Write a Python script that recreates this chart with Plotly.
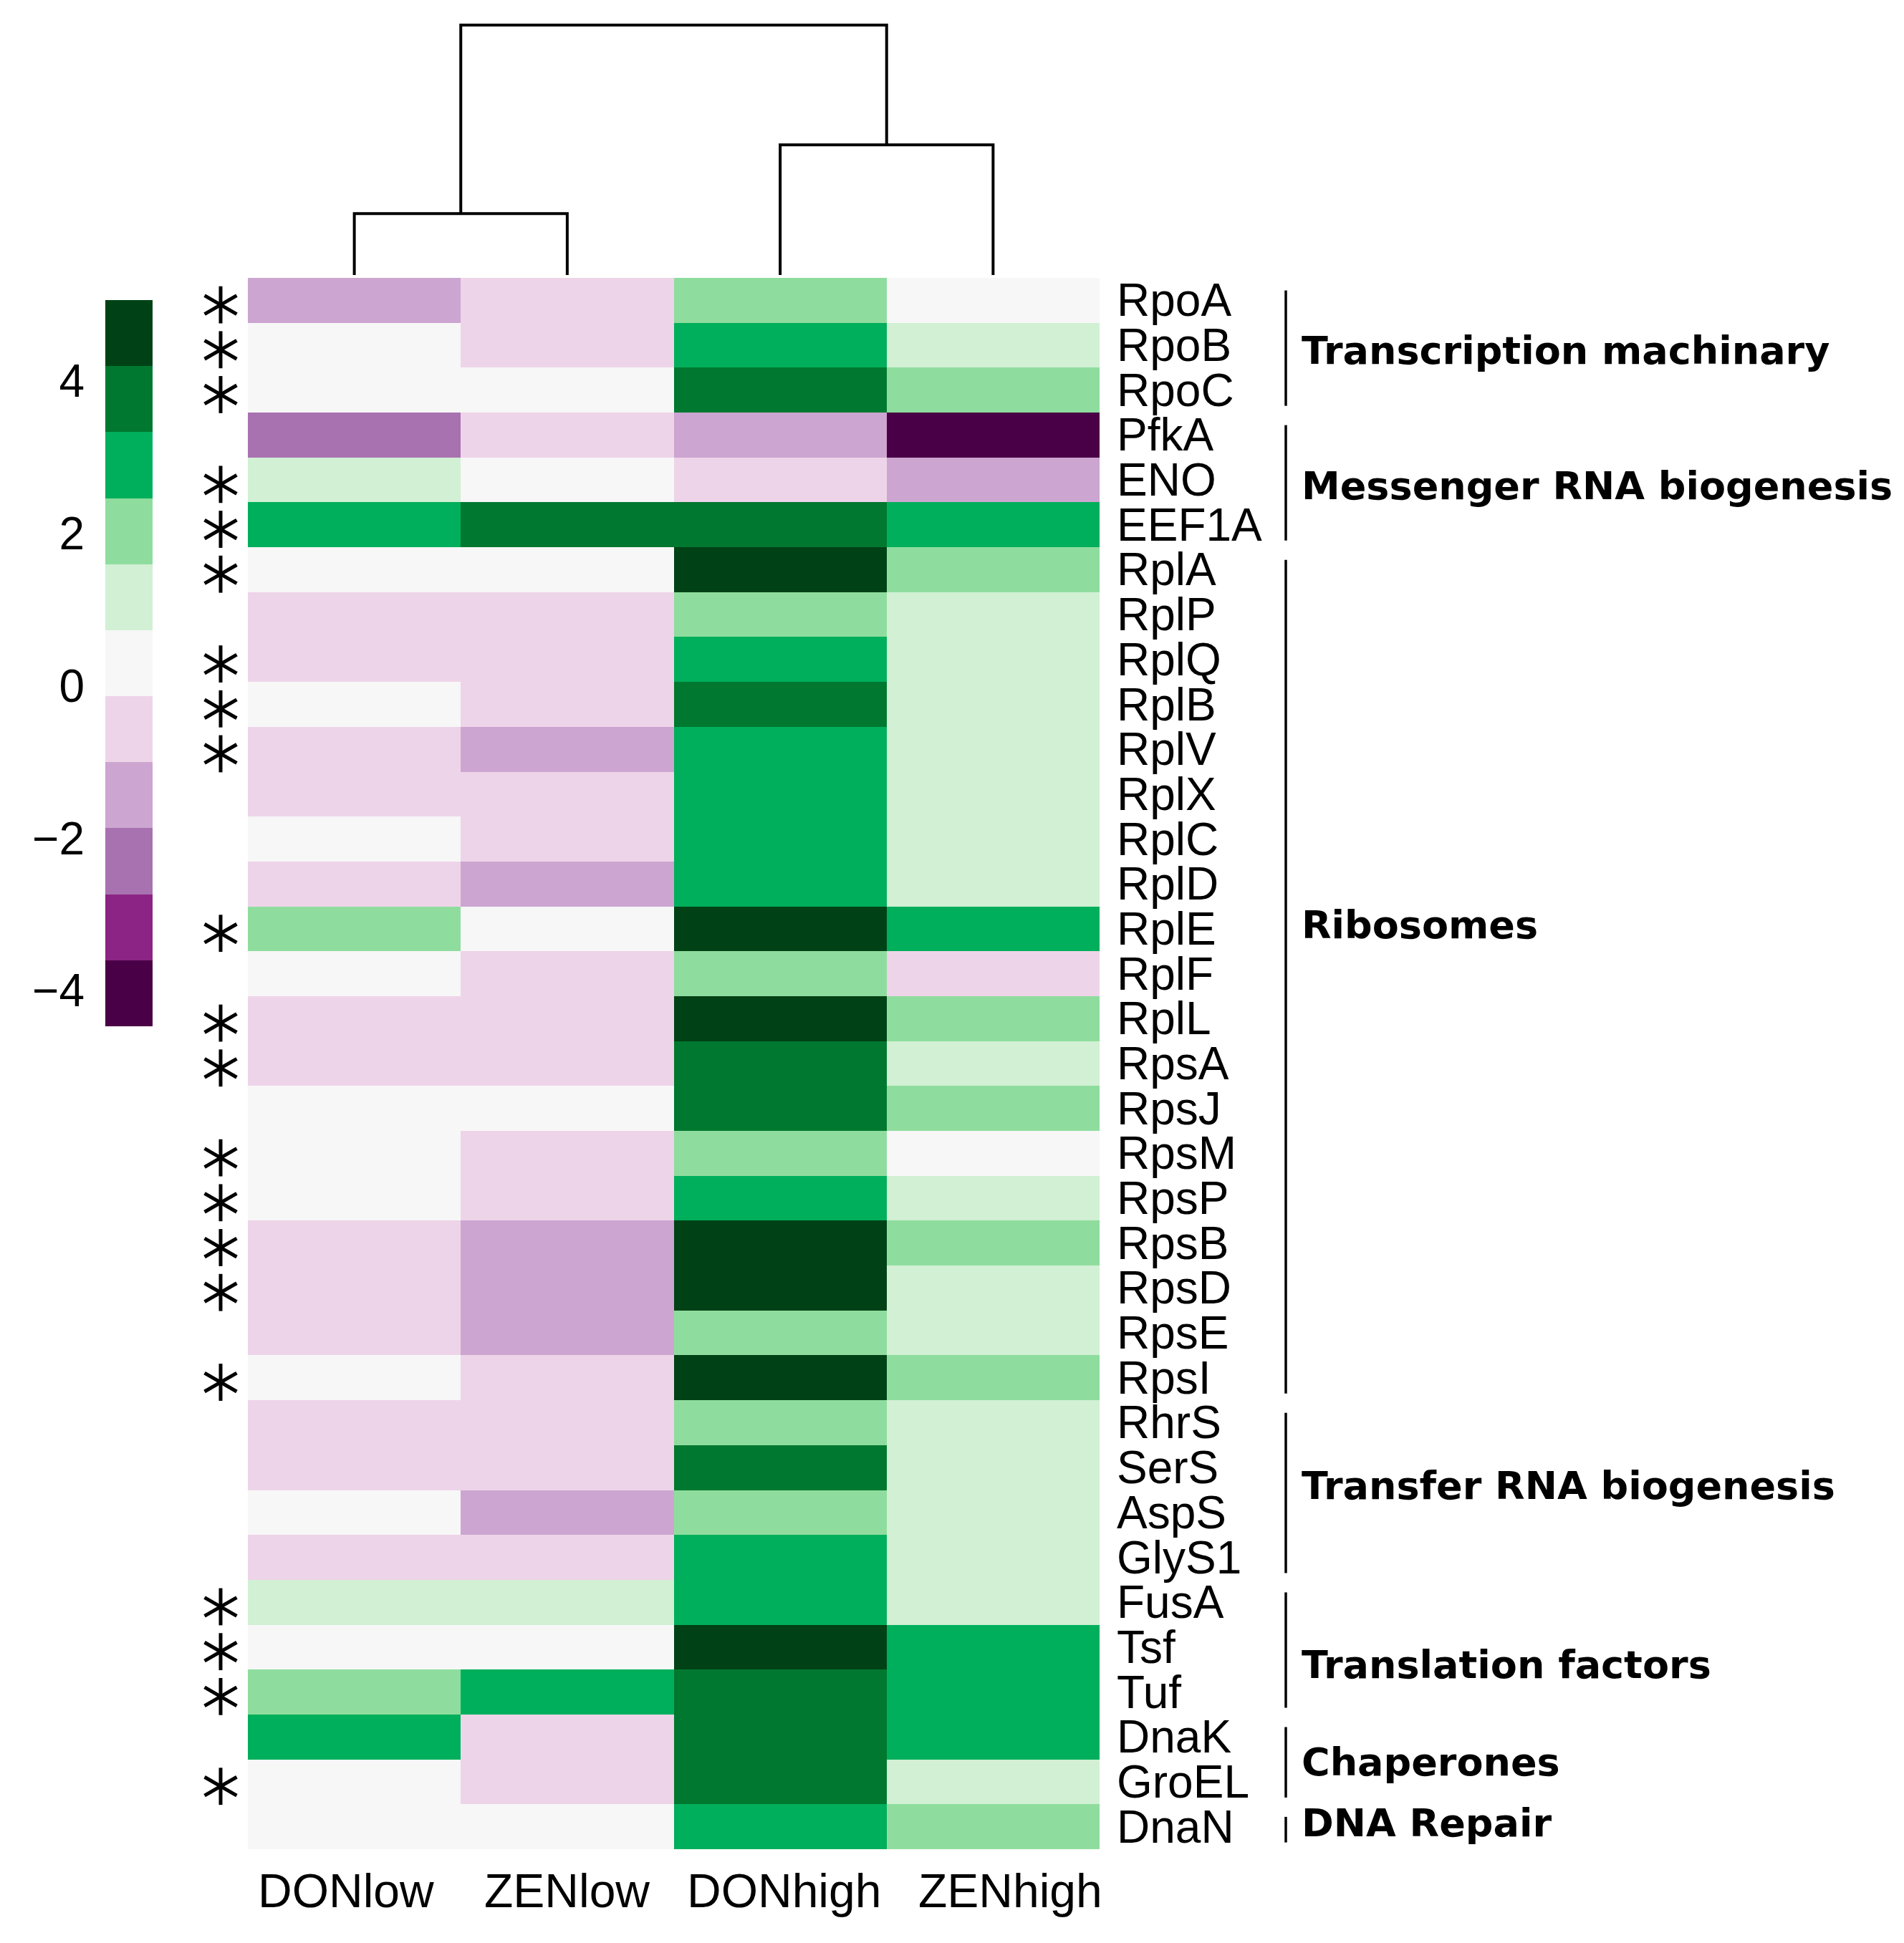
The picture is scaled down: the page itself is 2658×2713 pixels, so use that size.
import plotly.graph_objects as go

W, H = 2658, 2713

SAMPLES = ["DONlow", "ZENlow", "DONhigh", "ZENhigh"]
GENES = ["RpoA", "RpoB", "RpoC", "PfkA", "ENO", "EEF1A", "RplA", "RplP", "RplQ",
         "RplB", "RplV", "RplX", "RplC", "RplD", "RplE", "RplF", "RplL", "RpsA",
         "RpsJ", "RpsM", "RpsP", "RpsB", "RpsD", "RpsE", "RpsI", "RhrS", "SerS",
         "AspS", "GlyS1", "FusA", "Tsf", "Tuf", "DnaK", "GroEL", "DnaN"]

# estimated log fold changes (read from colour bins)
DONlow = [-1.4, 0.0, 0.0, -2.3, 1.2, 2.9, 0.0, -0.6, -0.6, 0.0, -0.6, -0.6, 0.0, -0.6,
          2.0, 0.0, -0.6, -0.6, 0.0, 0.0, 0.0, -0.6, -0.6, -0.6, 0.0, -0.6, -0.6, 0.0,
          -0.6, 1.2, 0.0, 2.0, 2.9, 0.0, 0.0]
ZENlow = [-0.6, -0.6, 0.0, -0.6, 0.0, 3.8, 0.0, -0.6, -0.6, -0.6, -1.4, -0.6, -0.6, -1.4,
          0.0, -0.6, -0.6, -0.6, 0.0, -0.6, -0.6, -1.4, -1.4, -1.4, -0.6, -0.6, -0.6, -1.4,
          -0.6, 1.2, 0.0, 2.9, -0.6, -0.6, 0.0]
DONhigh = [2.0, 2.9, 3.8, -1.4, -0.6, 3.8, 4.6, 2.0, 2.9, 3.8, 2.9, 2.9, 2.9, 2.9,
           4.6, 2.0, 4.6, 3.8, 3.8, 2.0, 2.9, 4.6, 4.6, 2.0, 4.6, 2.0, 3.8, 2.0,
           2.9, 2.9, 4.6, 3.8, 3.8, 3.8, 2.9]
ZENhigh = [0.0, 1.2, 2.0, -4.2, -1.4, 2.9, 2.0, 1.2, 1.2, 1.2, 1.2, 1.2, 1.2, 1.2,
           2.9, -0.6, 2.0, 1.2, 2.0, 0.0, 1.2, 2.0, 1.2, 1.2, 2.0, 1.2, 1.2, 1.2,
           1.2, 1.2, 2.9, 2.9, 2.9, 1.2, 2.0]

SIGNIFICANT = ["RpoA", "RpoB", "RpoC", "ENO", "EEF1A", "RplA", "RplQ", "RplB", "RplV",
               "RplE", "RplL", "RpsA", "RpsM", "RpsP", "RpsB", "RpsD", "RpsI", "FusA",
               "Tsf", "Tuf", "GroEL"]

GROUP_NAMES = ["Transcription machinary", "Messenger RNA biogenesis", "Ribosomes",
               "Transfer RNA biogenesis", "Translation factors", "Chaperones", "DNA Repair"]
GROUP_FIRST = ["RpoA", "PfkA", "RplA", "RhrS", "FusA", "DnaK", "DnaN"]
GROUP_LAST = ["RpoC", "EEF1A", "RpsI", "GlyS1", "Tuf", "GroEL", "DnaN"]
GROUP_LABEL_ROW = [1.12, 4.13, 13.92, 26.4, 30.4, 32.56, 33.92]

# column dendrogram merges: (left, right, height)
MERGES = [("DONlow", "ZENlow", 2.46), ("DONhigh", "ZENhigh", 5.21), (0, 1, 10.0)]

# colour scale breaks and colours
BREAKS = [-4.47, -3.603, -2.736, -1.87, -1.003, -0.136, 0.731, 1.597, 2.464, 3.331, 4.197, 5.06]
COLORS = ["#4a0046", "#8b2484", "#a872b0", "#cca5d1", "#eed4e9", "#f7f7f7",
          "#d1f0d4", "#8fdd9e", "#00af5b", "#00782f", "#004215"]
CB_TICKS = [4, 2, 0, -2, -4]
CB_TICKTEXT = ["4", "2", "0", "\u22122", "\u22124"]

COL_LABEL_SHIFT = [-12, 0, 5, 24]


def px(p):
    return p / W


def py(p):
    return 1 - p / H


zmin, zmax = BREAKS[0], BREAKS[-1]
cscale = []
for k, c in enumerate(COLORS):
    a = (BREAKS[k] - zmin) / (zmax - zmin)
    b = (BREAKS[k + 1] - zmin) / (zmax - zmin)
    cscale.append([a, c])
    cscale.append([b, c])
cscale[0][0] = 0.0
cscale[-1][0] = 1.0

cols = [DONlow, ZENlow, DONhigh, ZENhigh]
z = [[cols[j][i] for j in range(len(SAMPLES))] for i in range(len(GENES))]

fig = go.Figure()

fig.add_trace(go.Heatmap(
    z=z, x=list(range(len(SAMPLES))), y=list(range(len(GENES))),
    colorscale=cscale, zmin=zmin, zmax=zmax, showscale=False,
    xaxis="x", yaxis="y", hoverinfo="skip"))

# colour bar drawn as its own heatmap
centers = [(BREAKS[k] + BREAKS[k + 1]) / 2 for k in range(len(COLORS))]
fig.add_trace(go.Heatmap(
    z=[[c] for c in centers], x=[0, 1], y=BREAKS,
    colorscale=cscale, zmin=zmin, zmax=zmax, showscale=False,
    xaxis="x3", yaxis="y3", hoverinfo="skip"))

# dendrogram
pos = {s: (i, 0.0) for i, s in enumerate(SAMPLES)}
clusters = []
dx, dy = [], []
for left, right, h in MERGES:
    l = pos[left] if isinstance(left, str) else clusters[left]
    r = pos[right] if isinstance(right, str) else clusters[right]
    dx += [l[0], l[0], r[0], r[0], None]
    dy += [l[1], h, h, r[1], None]
    clusters.append(((l[0] + r[0]) / 2, h))
fig.add_trace(go.Scatter(x=dx, y=dy, mode="lines", line=dict(color="black", width=4),
                         xaxis="x", yaxis="y2", hoverinfo="skip", showlegend=False))

# significance asterisks (three rotated strokes)
sig_rows = [GENES.index(g) + 0.1 for g in SIGNIFICANT]
for ang in (0, 60, -60):
    fig.add_trace(go.Scatter(
        x=[0] * len(sig_rows), y=sig_rows, mode="markers",
        marker=dict(symbol="line-ns", size=37, angle=ang,
                    line=dict(color="black", width=5)),
        xaxis="x4", yaxis="y", hoverinfo="skip", showlegend=False, cliponaxis=False))

annotations = []
for i, g in enumerate(GENES):
    annotations.append(dict(x=px(1557), xref="paper", y=i, yref="y", text=g,
                            showarrow=False, xanchor="left", yanchor="middle",
                            font=dict(family="Liberation Sans, Arial", size=64, color="black")))
for j, s in enumerate(SAMPLES):
    annotations.append(dict(x=j, xref="x", y=py(2640), yref="paper", text=s,
                            showarrow=False, xanchor="center", yanchor="middle",
                            xshift=COL_LABEL_SHIFT[j],
                            font=dict(family="Liberation Sans, Arial", size=66, color="black")))

shapes = []
for name, f, l, yl in zip(GROUP_NAMES, GROUP_FIRST, GROUP_LAST, GROUP_LABEL_ROW):
    i0, i1 = GENES.index(f), GENES.index(l)
    shapes.append(dict(type="line", xref="paper", yref="y", x0=px(1795), x1=px(1795),
                       y0=i0 - 0.5 + 0.28, y1=i1 + 0.5 - 0.15,
                       line=dict(color="black", width=3.5)))
    annotations.append(dict(x=px(1815), xref="paper", y=yl, yref="y", text="<b>%s</b>" % name,
                            showarrow=False, xanchor="left", yanchor="middle",
                            font=dict(family="DejaVu Sans", size=54, color="black")))

hidden = dict(visible=False, showgrid=False, zeroline=False)
fig.update_layout(
    width=W, height=H, margin=dict(l=0, r=0, t=0, b=0),
    paper_bgcolor="white", plot_bgcolor="white", showlegend=False,
    xaxis=dict(domain=[px(346), px(1535)], range=[-0.5, 3.5], **hidden),
    yaxis=dict(domain=[py(2582), py(388)], range=[34.5, -0.5], **hidden),
    yaxis2=dict(domain=[py(384), py(20)], range=[0, 10.0 * 364 / 349], anchor="x", **hidden),
    xaxis3=dict(domain=[px(147), px(213)], range=[0, 1], anchor="y3", **hidden),
    yaxis3=dict(domain=[py(1433), py(419)], range=[zmin, zmax], anchor="x3",
                showgrid=False, zeroline=False, showline=False, ticks="",
                tickvals=CB_TICKS, ticktext=CB_TICKTEXT, side="left",
                ticklabelstandoff=28,
                tickfont=dict(family="Liberation Sans, Arial", size=64, color="black")),
    xaxis4=dict(domain=[px(290), px(326)], range=[-1, 1], anchor="y", **hidden),
    annotations=annotations, shapes=shapes,
)

fig.write_html("out.html", config={"displayModeBar": False},
               post_script="document.body.style.margin='0';document.body.style.overflow='hidden';")
